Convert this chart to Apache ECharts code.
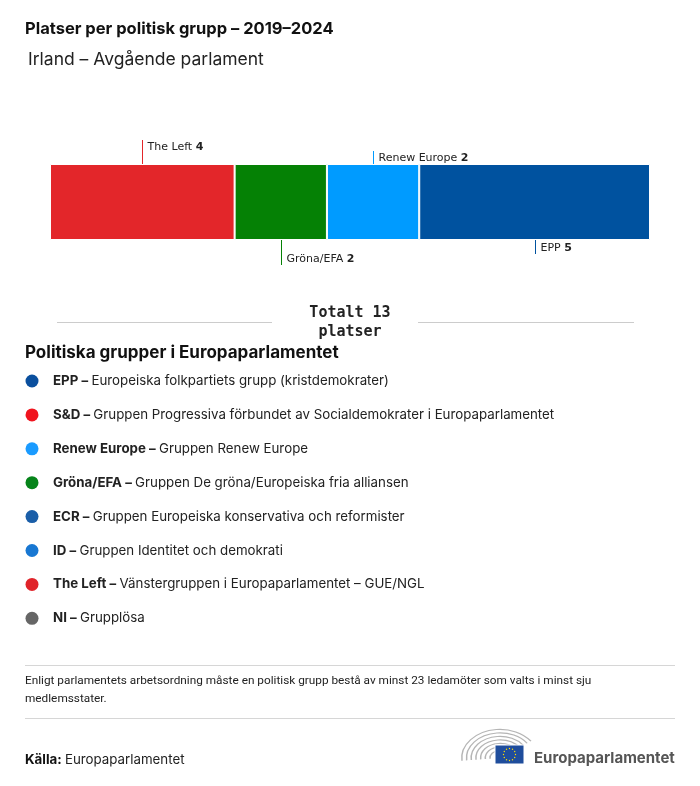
<!DOCTYPE html>
<html><head><meta charset="utf-8">
<script src="https://cdn.jsdelivr.net/npm/echarts@6/dist/echarts.min.js"></script>
<style>html,body{margin:0;padding:0;background:#fff}#c{width:700px;height:786px}</style>
</head><body><div id="c"></div>
<script>
// ---- data ----
const country = 'Irland';
const groups = ['The Left', 'Gröna/EFA', 'Renew Europe', 'EPP'];
const seats = [4, 2, 2, 5];
const barColors = ['#e3262a', '#058105', '#009bff', '#00529f'];

const legendCodes = ['EPP', 'S&D', 'Renew Europe', 'Gröna/EFA', 'ECR', 'ID', 'The Left', 'NI'];
const legendNames = [
  'Europeiska folkpartiets grupp (kristdemokrater)',
  'Gruppen Progressiva förbundet av Socialdemokrater i Europaparlamentet',
  'Gruppen Renew Europe',
  'Gruppen De gröna/Europeiska fria alliansen',
  'Gruppen Europeiska konservativa och reformister',
  'Gruppen Identitet och demokrati',
  'Vänstergruppen i Europaparlamentet – GUE/NGL',
  'Grupplösa'
];
const legendColors = ['#0a4f9e', '#f0141e', '#1a9bff', '#06841a', '#1a5ea8', '#1877d2', '#e0242a', '#666666'];

const titleText = 'Platser per politisk grupp – 2019–2024';
const subtitleText = 'Irland – Avgående parlament';
const legendTitle = 'Politiska grupper i Europaparlamentet';
const noteText = 'Enligt parlamentets arbetsordning måste en politisk grupp bestå av minst 23 ledamöter som valts i minst sju\nmedlemsstater.';
const sourceLabel = 'Källa:';
const sourceText = 'Europaparlamentet';
const logoText = 'Europaparlamentet';

// ---- derived ----
const total = seats.reduce((a, b) => a + b, 0);
const starts = [];
seats.reduce((acc, v) => { starts.push(acc); return acc + v; }, 0);
const labelData = seats.map((v, i) => [starts[i] + v / 2, 0, i]);

// label styling (not data)
const labelStyle = [
  { side: 'top', len: 24 },
  { side: 'bottom', len: 25 },
  { side: 'top', len: 13 },
  { side: 'bottom', len: 14 }
];

const chart = echarts.init(document.getElementById('c'), null, { renderer: 'canvas' });

const FONT_MAIN = 'Inter, "Noto Sans", sans-serif';

const series = groups.map((g, i) => ({
  name: g,
  type: 'bar',
  stack: 'total',
  barWidth: '100%',
  data: [seats[i]],
  itemStyle: { color: barColors[i], borderColor: '#fff', borderWidth: 1 },
  silent: true
}));

series.push({
  type: 'custom',
  silent: true,
  data: labelData,
  z: 10,
  renderItem: function (params, api) {
    const i = api.value(2);
    const pt = api.coord([api.value(0), api.value(1)]);
    const band = api.size([0, 1])[1];
    const top = pt[1] - band / 2, bot = pt[1] + band / 2;
    const st = labelStyle[i];
    const x = Math.round(pt[0]) + 0.5;
    let y1, y2, ty, tv;
    if (st.side === 'top') { y1 = top - st.len; y2 = top; ty = y1 + 2; tv = 'top'; }
    else { y1 = bot; y2 = bot + st.len; ty = y2; tv = 'bottom'; }
    return {
      type: 'group',
      children: [
        { type: 'line', shape: { x1: x, y1: y1, x2: x, y2: y2 }, style: { stroke: barColors[i], lineWidth: 1 } },
        {
          type: 'text', x: x + 5, y: ty,
          style: {
            text: '{n|' + groups[i] + ' }{b|' + seats[i] + '}',
            verticalAlign: tv, align: 'left',
            rich: {
              n: { fontFamily: '"DejaVu Sans", Verdana, sans-serif', fontSize: 11, fill: '#222', color: '#222' },
              b: { fontFamily: '"DejaVu Sans", Verdana, sans-serif', fontSize: 11, fontWeight: 'bold', fill: '#222', color: '#222' }
            }
          }
        }
      ]
    };
  }
});

const graphics = [];
// title
graphics.push({ type: 'text', x: 25, y: 29, style: { text: titleText, font: 'bold 16.5px ' + FONT_MAIN, fill: '#111', verticalAlign: 'middle' } });
graphics.push({ type: 'text', x: 28, y: 60, style: { text: subtitleText, font: '17.5px ' + FONT_MAIN, fill: '#222', verticalAlign: 'middle' } });
// total
graphics.push({ type: 'line', shape: { x1: 57, y1: 322.5, x2: 272, y2: 322.5 }, style: { stroke: '#cccccc', lineWidth: 1 } });
graphics.push({ type: 'line', shape: { x1: 418, y1: 322.5, x2: 634, y2: 322.5 }, style: { stroke: '#cccccc', lineWidth: 1 } });
graphics.push({ type: 'text', x: 350, y: 304, style: { text: 'Totalt ' + total + '\nplatser', font: 'bold 15px "DejaVu Sans Mono", "Liberation Mono", monospace', fill: '#222', align: 'center', lineHeight: 19 } });
// legend title
graphics.push({ type: 'text', x: 25, y: 353, style: { text: legendTitle, font: 'bold 17px ' + FONT_MAIN, fill: '#111', verticalAlign: 'middle' } });
// legend rows
legendCodes.forEach((c, i) => {
  const cy = 381 + i * 33.9;
  graphics.push({ type: 'circle', shape: { cx: 32, cy: cy, r: 6.5 }, style: { fill: legendColors[i] } });
  graphics.push({
    type: 'text', x: 53, y: cy, style: {
      text: '{b|' + c + ' –} {n|' + legendNames[i] + '}',
      verticalAlign: 'middle',
      rich: {
        b: { fontFamily: FONT_MAIN, fontSize: 13.3, fontWeight: 'bold', fill: '#222', color: '#222' },
        n: { fontFamily: FONT_MAIN, fontSize: 13.3, fill: '#222', color: '#222' }
      }
    }
  });
});
// note
graphics.push({ type: 'line', shape: { x1: 25, y1: 665.5, x2: 675, y2: 665.5 }, style: { stroke: '#d6d6d6', lineWidth: 1 } });
graphics.push({ type: 'text', x: 25, y: 672, style: { text: noteText, font: '11.8px Roboto, sans-serif', fill: '#222', lineHeight: 18 } });
graphics.push({ type: 'line', shape: { x1: 25, y1: 718.5, x2: 675, y2: 718.5 }, style: { stroke: '#d6d6d6', lineWidth: 1 } });
// source
graphics.push({
  type: 'text', x: 25, y: 760, style: {
    text: '{b|' + sourceLabel + '} {n|' + sourceText + '}', verticalAlign: 'middle',
    rich: {
      b: { fontFamily: FONT_MAIN, fontSize: 13.3, fontWeight: 'bold', fill: '#111', color: '#111' },
      n: { fontFamily: FONT_MAIN, fontSize: 13.3, fill: '#222', color: '#222' }
    }
  }
});
// logo: parliament arcs (flattened hemicycle)
for (let k = 0; k < 7; k++) {
  graphics.push({
    type: 'arc',
    x: 500, y: 758, scaleY: 0.75,
    shape: { cx: 0, cy: 0, r: 10 + k * 4.7, startAngle: Math.PI * 0.97, endAngle: Math.PI * 1.8 },
    style: { stroke: '#b5b5b5', lineWidth: 1.5, fill: null }
  });
}
graphics.push({ type: 'rect', shape: { x: 495, y: 745, width: 29, height: 19 }, style: { fill: '#1f4d9c', stroke: '#fff', lineWidth: 1 } });
for (let s = 0; s < 12; s++) {
  const a = s / 12 * Math.PI * 2;
  graphics.push({ type: 'circle', shape: { cx: 509.5 + 6 * Math.cos(a), cy: 754.5 + 6 * Math.sin(a), r: 0.7 }, style: { fill: '#ffdd00' } });
}
graphics.push({ type: 'text', x: 534, y: 758, style: { text: logoText, font: 'bold 15px ' + FONT_MAIN, fill: '#555', verticalAlign: 'middle' } });

chart.setOption({
  animation: false,
  backgroundColor: '#ffffff',
  grid: { left: 50, right: 50, top: 164, height: 76, containLabel: false },
  xAxis: { type: 'value', min: 0, max: total, show: false },
  yAxis: { type: 'category', data: [country], show: false },
  series: series,
  graphic: graphics
});
</script>
</body></html>
